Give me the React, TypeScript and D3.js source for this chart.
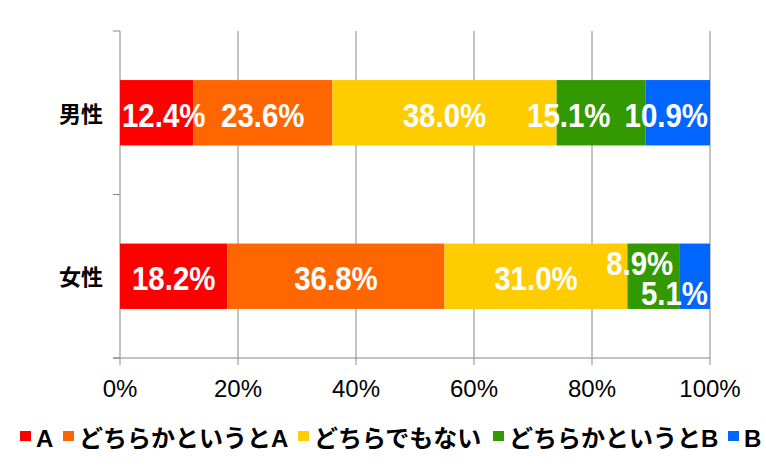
import * as d3 from 'd3';

const categories = ['男性', '女性'];
const seriesNames = ['A', 'どちらかというとA', 'どちらでもない', 'どちらかというとB', 'B'];
const colors = ['#ff0000', '#ff6600', '#ffcc00', '#339900', '#0066ff'];
const maleValues = [12.4, 23.6, 38.0, 15.1, 10.9];
const femaleValues = [18.2, 36.8, 31.0, 8.9, 5.1];
const xTicks = [0, 20, 40, 60, 80, 100];

const values = [maleValues, femaleValues];

const width = 766;
const height = 468;
const margin = { top: 31, right: 56, bottom: 110, left: 120 };
const labelFont = "'Liberation Sans', Arial, sans-serif";
const jpFont = "'Liberation Sans', 'Noto Sans CJK JP', sans-serif";

// width of a white label as a condensed bold face would set it
const labelWidth = (s: string, size: number) =>
  s.split('').reduce((w, c) => w + (c === '.' ? 0.24 : c === '%' ? 0.76 : 0.485), 0) * size;

// rough width of legend text: kana full width, latin letters ~0.67em
const legendTextWidth = (s: string, size: number) =>
  s.split('').reduce((w, c) => w + (/[A-Za-z]/.test(c) ? 0.667 : 1), 0) * size;

const App = () => {
  const x = d3
    .scaleLinear()
    .domain([0, 100])
    .range([margin.left, width - margin.right]);
  const y = d3
    .scaleBand()
    .domain(categories)
    .range([margin.top, height - margin.bottom])
    .paddingInner(0.6)
    .paddingOuter(0.3);
  const yTicks = [margin.top, (margin.top + height - margin.bottom) / 2, height - margin.bottom];
  const bottom = height - margin.bottom;
  const fontSize = 34;

  const rows = categories.map((cat, ci) => {
    const vals = values[ci];
    const ends = d3.cumsum(vals);
    const segs = vals.map((v, i) => ({
      v,
      i,
      x0: x(ends[i] - v),
      x1: x(ends[i]),
    }));
    // label layout: centre, clamp into plot, push left or stagger on overlap
    const labels = segs.map((s) => {
      const text = `${s.v.toFixed(1)}%`;
      const w = labelWidth(text, fontSize);
      return { text, w, cx: (s.x0 + s.x1) / 2, dy: 0 };
    });
    const minX = x(0);
    const maxX = x(100);
    for (let i = labels.length - 1; i >= 0; i--) {
      const l = labels[i];
      if (l.cx + l.w / 2 > maxX) l.cx = maxX - l.w / 2 - 2;
      if (l.cx - l.w / 2 < minX) l.cx = minX + l.w / 2 + 2;
      const next = labels[i + 1];
      if (next && next.dy === 0) {
        const limit = next.cx - next.w / 2 - 14;
        const over = l.cx + l.w / 2 - limit;
        if (over > l.w / 2) {
          l.dy = -15;
          next.dy = 15;
          l.cx -= 14;
        } else if (over > 0) {
          l.cx -= over;
        }
      }
    }
    return { cat, segs, labels };
  });

  let lx = 20;
  const legendItems = seriesNames.map((name, i) => {
    const item = { name, color: colors[i], x: lx };
    lx += 17 + legendTextWidth(name, 24) + 10;
    return item;
  });

  return (
    <svg
      width={width}
      height={height}
      style={{ position: 'absolute', left: 0, top: 0, background: '#fff' }}
    >
      {/* grid and axes */}
      {xTicks.map((t) => (
        <g key={t}>
          <line x1={x(t)} x2={x(t)} y1={margin.top} y2={bottom + 7} stroke='#888' />
          <text
            x={x(t)}
            y={bottom + 39}
            textAnchor='middle'
            fontSize={24}
            fontFamily="'Liberation Sans', Arial, sans-serif"
            fill='#000'
          >
            {t}%
          </text>
        </g>
      ))}
      <line x1={x(0) - 7} x2={x(100)} y1={bottom} y2={bottom} stroke='#888' />
      {yTicks.map((t, i) => (
        <line key={i} x1={x(0) - 7} x2={x(0)} y1={t} y2={t} stroke='#888' />
      ))}

      {rows.map((row) => {
        const y0 = y(row.cat) as number;
        const bh = y.bandwidth();
        const mid = y0 + bh / 2;
        return (
          <g key={row.cat}>
            <text
              x={103}
              y={mid + 9}
              textAnchor='end'
              fontSize={22}
              fontWeight='bold'
              fontFamily={jpFont}
              fill='#000'
            >
              {row.cat}
            </text>
            {row.segs.map((s) => (
              <rect
                key={s.i}
                x={s.x0}
                y={y0}
                width={s.x1 - s.x0}
                height={bh}
                fill={colors[s.i]}
              />
            ))}
            {row.labels.map((l, i) => (
              <text
                key={i}
                x={l.cx}
                y={mid + 14 + l.dy}
                textAnchor='middle'
                fontSize={fontSize}
                fontWeight='bold'
                fontFamily={labelFont}
                textLength={l.w}
                lengthAdjust='spacingAndGlyphs'
                fill='#fff'
              >
                {l.text}
              </text>
            ))}
          </g>
        );
      })}

      {/* legend */}
      {legendItems.map((it) => (
        <g key={it.name}>
          <rect x={it.x} y={431} width={11} height={10} fill={it.color} />
          <text
            x={it.x + 16}
            y={447}
            fontSize={24}
            fontWeight='bold'
            fontFamily={jpFont}
            fill='#000'
          >
            {it.name}
          </text>
        </g>
      ))}
    </svg>
  );
};

export default App;
